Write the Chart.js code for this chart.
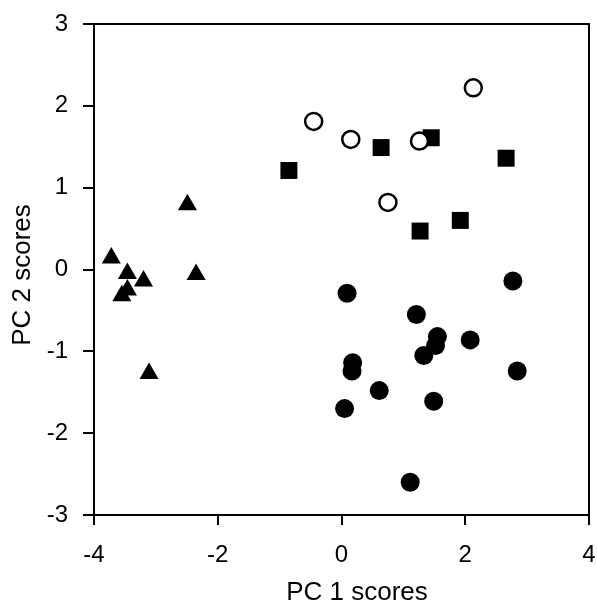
<!DOCTYPE html>
<html>
<head>
<meta charset="utf-8">
<script src="https://cdn.jsdelivr.net/npm/chart.js@4/dist/chart.umd.min.js"></script>
<style>
  html, body { margin: 0; padding: 0; background: #fff; }
</style>
</head>
<body>
<canvas id="pcaChart" width="597" height="605"></canvas>
<script>
// PC scores, one pair of arrays per group
const triPC1 = [-2.49, -3.72, -2.35, -3.46, -3.20, -3.46, -3.55, -3.11];
const triPC2 = [0.79, 0.14, -0.06, -0.05, -0.14, -0.25, -0.32, -1.27];

const squarePC1 = [-0.85, 0.64, 1.45, 2.66, 1.92, 1.27];
const squarePC2 = [1.21, 1.49, 1.61, 1.36, 0.60, 0.47];

const openPC1 = [-0.45, 0.15, 1.26, 2.13, 0.75];
const openPC2 = [1.81, 1.59, 1.57, 2.22, 0.82];

const dotPC1 = [0.09, 2.77, 1.21, 1.55, 1.52, 2.08, 1.33, 0.18, 0.17, 2.84, 0.61, 1.49, 0.05, 1.11];
const dotPC2 = [-0.29, -0.14, -0.55, -0.82, -0.93, -0.86, -1.05, -1.14, -1.24, -1.24, -1.48, -1.61, -1.70, -2.60];

// axis ranges / tick steps
const xRange = [-4, 4];
const xStep = 2;
const yRange = [-3, 3];
const yStep = 1;
const xTitle = 'PC 1 scores';
const yTitle = 'PC 2 scores';

function toPoints(xs, ys) {
    return xs.map((x, i) => ({ x: x, y: ys[i] }));
}

// frame on top/right plus the two axis titles
const framePlugin = {
    id: 'frame',
    afterDraw(chart) {
        const ctx = chart.ctx;
        const a = chart.chartArea;
        ctx.save();
        ctx.strokeStyle = '#000';
        ctx.lineWidth = 2;
        ctx.strokeRect(a.left, a.top, a.right - a.left, a.bottom - a.top);

        ctx.fillStyle = '#000';
        ctx.font = '26px "Liberation Sans", Arial, sans-serif';
        ctx.textAlign = 'center';
        ctx.textBaseline = 'middle';
        ctx.fillText(xTitle, 357, 593);

        ctx.translate(23, 275);
        ctx.rotate(-Math.PI / 2);
        ctx.fillText(yTitle, 0, 0);
        ctx.restore();
    }
};

const tickFont = { family: 'Liberation Sans', size: 24 };

new Chart(document.getElementById('pcaChart').getContext('2d'), {
    type: 'scatter',
    data: {
        datasets: [
            {
                label: 'open',
                data: toPoints(openPC1, openPC2),
                pointStyle: 'circle',
                pointRadius: 8.5,
                backgroundColor: '#fff',
                borderColor: '#000',
                borderWidth: 2.5
            },
            {
                label: 'square',
                data: toPoints(squarePC1, squarePC2),
                pointStyle: 'rect',
                pointRadius: 12,
                backgroundColor: '#000',
                borderColor: '#000',
                borderWidth: 0
            },
            {
                label: 'triangle',
                data: toPoints(triPC1, triPC2),
                pointStyle: 'triangle',
                pointRadius: 11,
                backgroundColor: '#000',
                borderColor: '#000',
                borderWidth: 0
            },
            {
                label: 'dot',
                data: toPoints(dotPC1, dotPC2),
                pointStyle: 'circle',
                pointRadius: 9.5,
                backgroundColor: '#000',
                borderColor: '#000',
                borderWidth: 0
            }
        ]
    },
    options: {
        responsive: false,
        animation: false,
        layout: { autoPadding: false, padding: { top: 24, right: 8, left: 0, bottom: 0 } },
        plugins: {
            legend: { display: false },
            tooltip: { enabled: false }
        },
        scales: {
            x: {
                type: 'linear',
                min: xRange[0],
                max: xRange[1],
                afterFit: s => { s.height = 90; s.paddingRight = 0; s.paddingLeft = 0; },
                ticks: {
                    stepSize: xStep,
                    color: '#000',
                    font: tickFont,
                    padding: 16,
                    maxRotation: 0,
                    callback: v => String(v)
                },
                grid: {
                    drawOnChartArea: false,
                    drawTicks: true,
                    tickLength: 10,
                    color: '#000',
                    lineWidth: 2
                },
                border: { display: true, color: '#000', width: 2 }
            },
            y: {
                type: 'linear',
                min: yRange[0],
                max: yRange[1],
                afterFit: s => { s.width = 94; s.paddingTop = 0; s.paddingBottom = 0; },
                ticks: {
                    stepSize: yStep,
                    color: '#000',
                    font: tickFont,
                    padding: 15,
                    callback: v => String(v)
                },
                grid: {
                    drawOnChartArea: false,
                    drawTicks: true,
                    tickLength: 11,
                    color: '#000',
                    lineWidth: 2
                },
                border: { display: true, color: '#000', width: 2 }
            }
        }
    },
    plugins: [framePlugin]
});
</script>
</body>
</html>
